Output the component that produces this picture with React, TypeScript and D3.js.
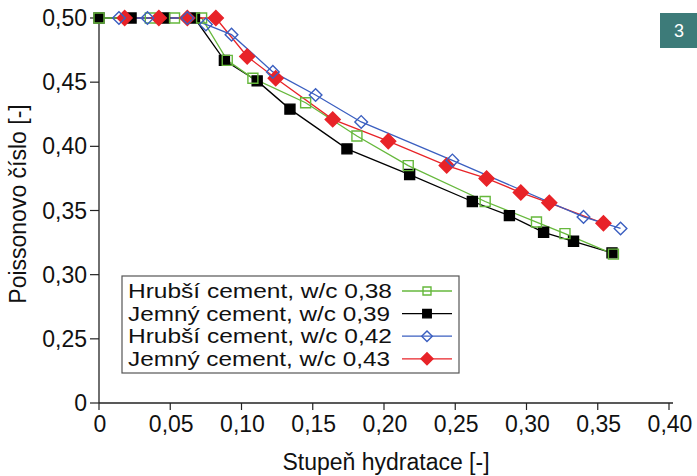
import React from 'react';
import * as d3 from 'd3';

// x: stupeň hydratace, y: Poissonovo číslo
const hrubsi38X = [0, 0.036, 0.053, 0.072, 0.09, 0.108, 0.145, 0.181, 0.217, 0.271, 0.307, 0.327, 0.361];
const hrubsi38Y = [0.5, 0.5, 0.5, 0.5, 0.467, 0.453, 0.434, 0.408, 0.385, 0.357, 0.341, 0.332, 0.316];

const jemny39X = [0, 0.0225, 0.046, 0.067, 0.088, 0.111, 0.134, 0.174, 0.218, 0.262, 0.288, 0.312, 0.333, 0.36];
const jemny39Y = [0.5, 0.5, 0.5, 0.5, 0.467, 0.451, 0.429, 0.398, 0.378, 0.357, 0.346, 0.333, 0.326, 0.317];

const hrubsi42X = [0.014, 0.034, 0.062, 0.075, 0.093, 0.122, 0.152, 0.184, 0.248, 0.34, 0.366];
const hrubsi42Y = [0.5, 0.5, 0.5, 0.495, 0.487, 0.458, 0.44, 0.419, 0.389, 0.345, 0.336];

const jemny43X = [0.018, 0.042, 0.062, 0.082, 0.104, 0.124, 0.164, 0.203, 0.244, 0.272, 0.296, 0.316, 0.354];
const jemny43Y = [0.5, 0.5, 0.5, 0.5, 0.47, 0.453, 0.421, 0.404, 0.385, 0.375, 0.364, 0.356, 0.34];

const xTicks = [0, 0.05, 0.1, 0.15, 0.2, 0.25, 0.3, 0.35, 0.4];
const xTickLabels = ['0', '0,05', '0,10', '0,15', '0,20', '0,25', '0,30', '0,35', '0,40'];
// osa y je přerušená: spodní tick (0,20) je popsán jako 0
const yTicks = [0.2, 0.25, 0.3, 0.35, 0.4, 0.45, 0.5];
const yTickLabels = ['0', '0,25', '0,30', '0,35', '0,40', '0,45', '0,50'];

const FONT = '"Liberation Sans", Arial, sans-serif';

type Series = {
  label: string;
  xs: number[];
  ys: number[];
  color: string;
  shape: 'square' | 'diamond';
  filled: boolean;
  size: number;
  legendSize: number;
};

const series: Series[] = [
  { label: 'Jemný cement, w/c 0,39', xs: jemny39X, ys: jemny39Y, color: '#000000', shape: 'square', filled: true, size: 100, legendSize: 72 },
  { label: 'Hrubší cement, w/c 0,38', xs: hrubsi38X, ys: hrubsi38Y, color: '#66b83c', shape: 'square', filled: false, size: 100, legendSize: 64 },
  { label: 'Jemný cement, w/c 0,43', xs: jemny43X, ys: jemny43Y, color: '#e82328', shape: 'diamond', filled: true, size: 112, legendSize: 72 },
  { label: 'Hrubší cement, w/c 0,42', xs: hrubsi42X, ys: hrubsi42Y, color: '#3b5fc0', shape: 'diamond', filled: false, size: 80, legendSize: 56 },
];
const legendOrder = [1, 0, 3, 2];

function Marker({ s, x, y, size }: { s: Series; x: number; y: number; size: number }) {
  const d = d3.symbol(d3.symbolSquare, size)() as string;
  return (
    <path
      d={d}
      transform={`translate(${x},${y})${s.shape === 'diamond' ? ' rotate(45)' : ''}`}
      fill={s.filled ? s.color : 'white'}
      fillOpacity={s.filled ? 1 : 0}
      stroke={s.color}
      strokeWidth={1.4}
    />
  );
}

export default function App() {
  const width = 697;
  const height = 476;
  const x = d3.scaleLinear().domain([0, 0.4]).range([99, 669]);
  const y = d3.scaleLinear().domain([0.2, 0.5]).range([403, 18]);
  const line = d3.line<[number, number]>().x(d => x(d[0])).y(d => y(d[1]));

  // šířka textu v legendě podle délky popisku
  const legendTextLen = (label: string) => (label.startsWith('Hrubší') ? 264 : 262);

  return (
    <svg width={width} height={height} style={{ position: 'absolute', left: 0, top: 0, background: '#fff' }} fontFamily={FONT}>
      {/* osy */}
      <line x1={99} x2={99} y1={y(0.5)} y2={y(0.2)} stroke="#222" strokeWidth={1.3} />
      <line x1={99} x2={673} y1={y(0.2)} y2={y(0.2)} stroke="#222" strokeWidth={1.3} />
      {yTicks.map((t, i) => (
        <g key={'y' + i}>
          <line x1={90} x2={99} y1={y(t)} y2={y(t)} stroke="#222" strokeWidth={1.2} />
          <text x={87} y={y(t)} textAnchor="end" dominantBaseline="central" fontSize={23} fill="#111">
            {yTickLabels[i]}
          </text>
        </g>
      ))}
      {xTicks.map((t, i) => (
        <g key={'x' + i}>
          <line x1={x(t)} x2={x(t)} y1={403} y2={410} stroke="#222" strokeWidth={1.2} />
          <text x={x(t) + 1} y={432} textAnchor="middle" fontSize={23} fill="#111">
            {xTickLabels[i]}
          </text>
        </g>
      ))}
      <text x={386} y={470} textAnchor="middle" fontSize={23} fill="#111">Stupeň hydratace [-]</text>
      <text transform={`translate(26,204) rotate(-90)`} textAnchor="middle" fontSize={23} fill="#111">Poissonovo číslo [-]</text>

      {/* řady */}
      {series.map((s, si) => (
        <path
          key={'l' + si}
          d={line(s.xs.map((v, i) => [v, s.ys[i]] as [number, number])) as string}
          fill="none"
          stroke={s.color}
          strokeWidth={1.3}
        />
      ))}
      {series.map((s, si) => (
        <g key={'m' + si}>
          {s.xs.map((v, i) => (
            <Marker key={i} s={s} x={x(v)} y={y(s.ys[i])} size={s.size} />
          ))}
        </g>
      ))}

      {/* legenda */}
      <rect x={122} y={276} width={337} height={97} fill="white" stroke="#555" strokeWidth={1.2} />
      {legendOrder.map((idx, row) => {
        const s = series[idx];
        const cy = 291 + row * 22.6;
        return (
          <g key={'lg' + row}>
            <text
              x={128}
              y={cy}
              dominantBaseline="central"
              fontSize={20}
              fill="#111"
              textLength={legendTextLen(s.label)}
              lengthAdjust="spacingAndGlyphs"
            >
              {s.label}
            </text>
            <line x1={402} x2={452} y1={cy} y2={cy} stroke={s.color} strokeWidth={1.3} />
            <Marker s={s} x={427} y={cy} size={s.legendSize} />
          </g>
        );
      })}

      {/* číslo obrázku */}
      <rect x={660} y={13} width={37} height={35} fill="#3d7b79" />
      <text x={679} y={31} textAnchor="middle" dominantBaseline="central" fontSize={18} fill="white">3</text>
    </svg>
  );
}
